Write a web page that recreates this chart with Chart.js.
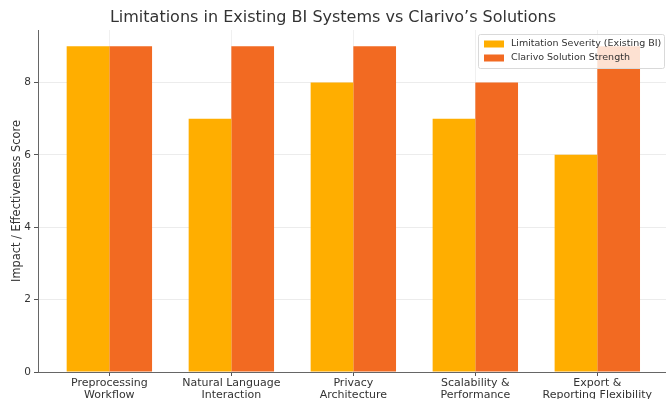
<!DOCTYPE html>
<html>
<head>
<meta charset="utf-8">
<script src="https://cdn.jsdelivr.net/npm/chart.js@4"></script>
<style>
  html, body { margin: 0; padding: 0; background: #fff; overflow: hidden; }
  #wrap { width: 666px; height: 399px; position: relative; }
</style>
</head>
<body>
<div id="wrap"><canvas id="chart"></canvas></div>
<script>
// Categorías (etiquetas en dos líneas) y puntuaciones de cada serie
const categories = [
  ['Preprocessing', 'Workflow'],
  ['Natural Language', 'Interaction'],
  ['Privacy', 'Architecture'],
  ['Scalability &', 'Performance'],
  ['Export &', 'Reporting Flexibility']
];
const severity = [9, 7, 8, 7, 6];   // Limitation Severity (Existing BI)
const strength = [9, 9, 9, 8, 9];   // Clarivo Solution Strength
const yTicks = [0, 2, 4, 6, 8];

const seriesNames = ['Limitation Severity (Existing BI)', 'Clarivo Solution Strength'];
const seriesColors = ['#FFAE00', '#F26A22'];

const FONT = "'DejaVu Sans', sans-serif";

// Leyenda dentro del área del gráfico, encima de las barras (como en matplotlib)
const innerLegend = {
  id: 'innerLegend',
  afterDraw(chart) {
    const ctx = chart.ctx;
    const x = 478, y = 34, w = 186, h = 34;
    ctx.save();
    ctx.fillStyle = 'rgba(255,255,255,0.8)';
    ctx.strokeStyle = '#d9d9d9';
    ctx.lineWidth = 1;
    ctx.beginPath();
    ctx.roundRect(x + 0.5, y + 0.5, w, h, 2);
    ctx.fill();
    ctx.stroke();
    ctx.font = '9.5px ' + FONT;
    ctx.textBaseline = 'middle';
    seriesNames.forEach((name, i) => {
      const cy = y + 10 + i * 14;
      ctx.fillStyle = seriesColors[i];
      ctx.fillRect(x + 6, cy - 3.5, 20, 7);
      ctx.fillStyle = '#333';
      ctx.fillText(name, x + 33, cy);
    });
    ctx.restore();
  }
};

new Chart(document.getElementById('chart'), {
  type: 'bar',
  data: {
    datasets: [
      {
        label: seriesNames[0],
        data: severity.map((v, i) => ({ x: i, y: v })),
        backgroundColor: seriesColors[0],
        categoryPercentage: 0.7,
        barPercentage: 1.0
      },
      {
        label: seriesNames[1],
        data: strength.map((v, i) => ({ x: i, y: v })),
        backgroundColor: seriesColors[1],
        categoryPercentage: 0.7,
        barPercentage: 1.0
      }
    ]
  },
  options: {
    responsive: true,
    maintainAspectRatio: false,
    animation: false,
    layout: { padding: { top: 0, left: 0, right: 0, bottom: 0 } },
    plugins: {
      legend: { display: false },
      tooltip: { enabled: false },
      title: {
        display: true,
        text: 'Limitations in Existing BI Systems vs Clarivo\u2019s Solutions',
        color: '#333',
        font: { family: FONT, size: 16, weight: 'normal' },
        padding: { top: 8.4, bottom: 2.4 }
      }
    },
    scales: {
      x: {
        type: 'linear',
        offset: false,
        min: -0.585,
        max: 4.563,
        afterFit(scale) { scale.height = 27; },
        afterBuildTicks(scale) {
          scale.ticks = categories.map((c, i) => ({ value: i }));
        },
        ticks: {
          stepSize: 1,
          includeBounds: false,
          maxRotation: 0,
          autoSkip: false,
          padding: 1,
          color: '#333',
          font: { family: FONT, size: 11, lineHeight: 1.1 },
          callback: (v) => categories[v]
        },
        grid: { offset: false, color: '#f0f0f0', tickColor: '#555', tickLength: 4 },
        border: { display: true, color: '#666', width: 1 }
      },
      y: {
        min: 0,
        max: 9.45,
        afterFit(scale) { scale.width = 38; },
        afterBuildTicks(scale) {
          scale.ticks = yTicks.map(v => ({ value: v }));
        },
        ticks: {
          stepSize: 2,
          includeBounds: false,
          padding: 3,
          color: '#333',
          font: { family: FONT, size: 10.5 }
        },
        grid: { color: '#ececec', tickColor: '#555', tickLength: 4 },
        border: { display: true, color: '#666', width: 1 },
        title: {
          display: true,
          text: 'Impact / Effectiveness Score',
          color: '#333',
          font: { family: FONT, size: 11.4 },
          padding: { top: 10, bottom: 0 }
        }
      }
    }
  },
  plugins: [innerLegend]
});
</script>
</body>
</html>
